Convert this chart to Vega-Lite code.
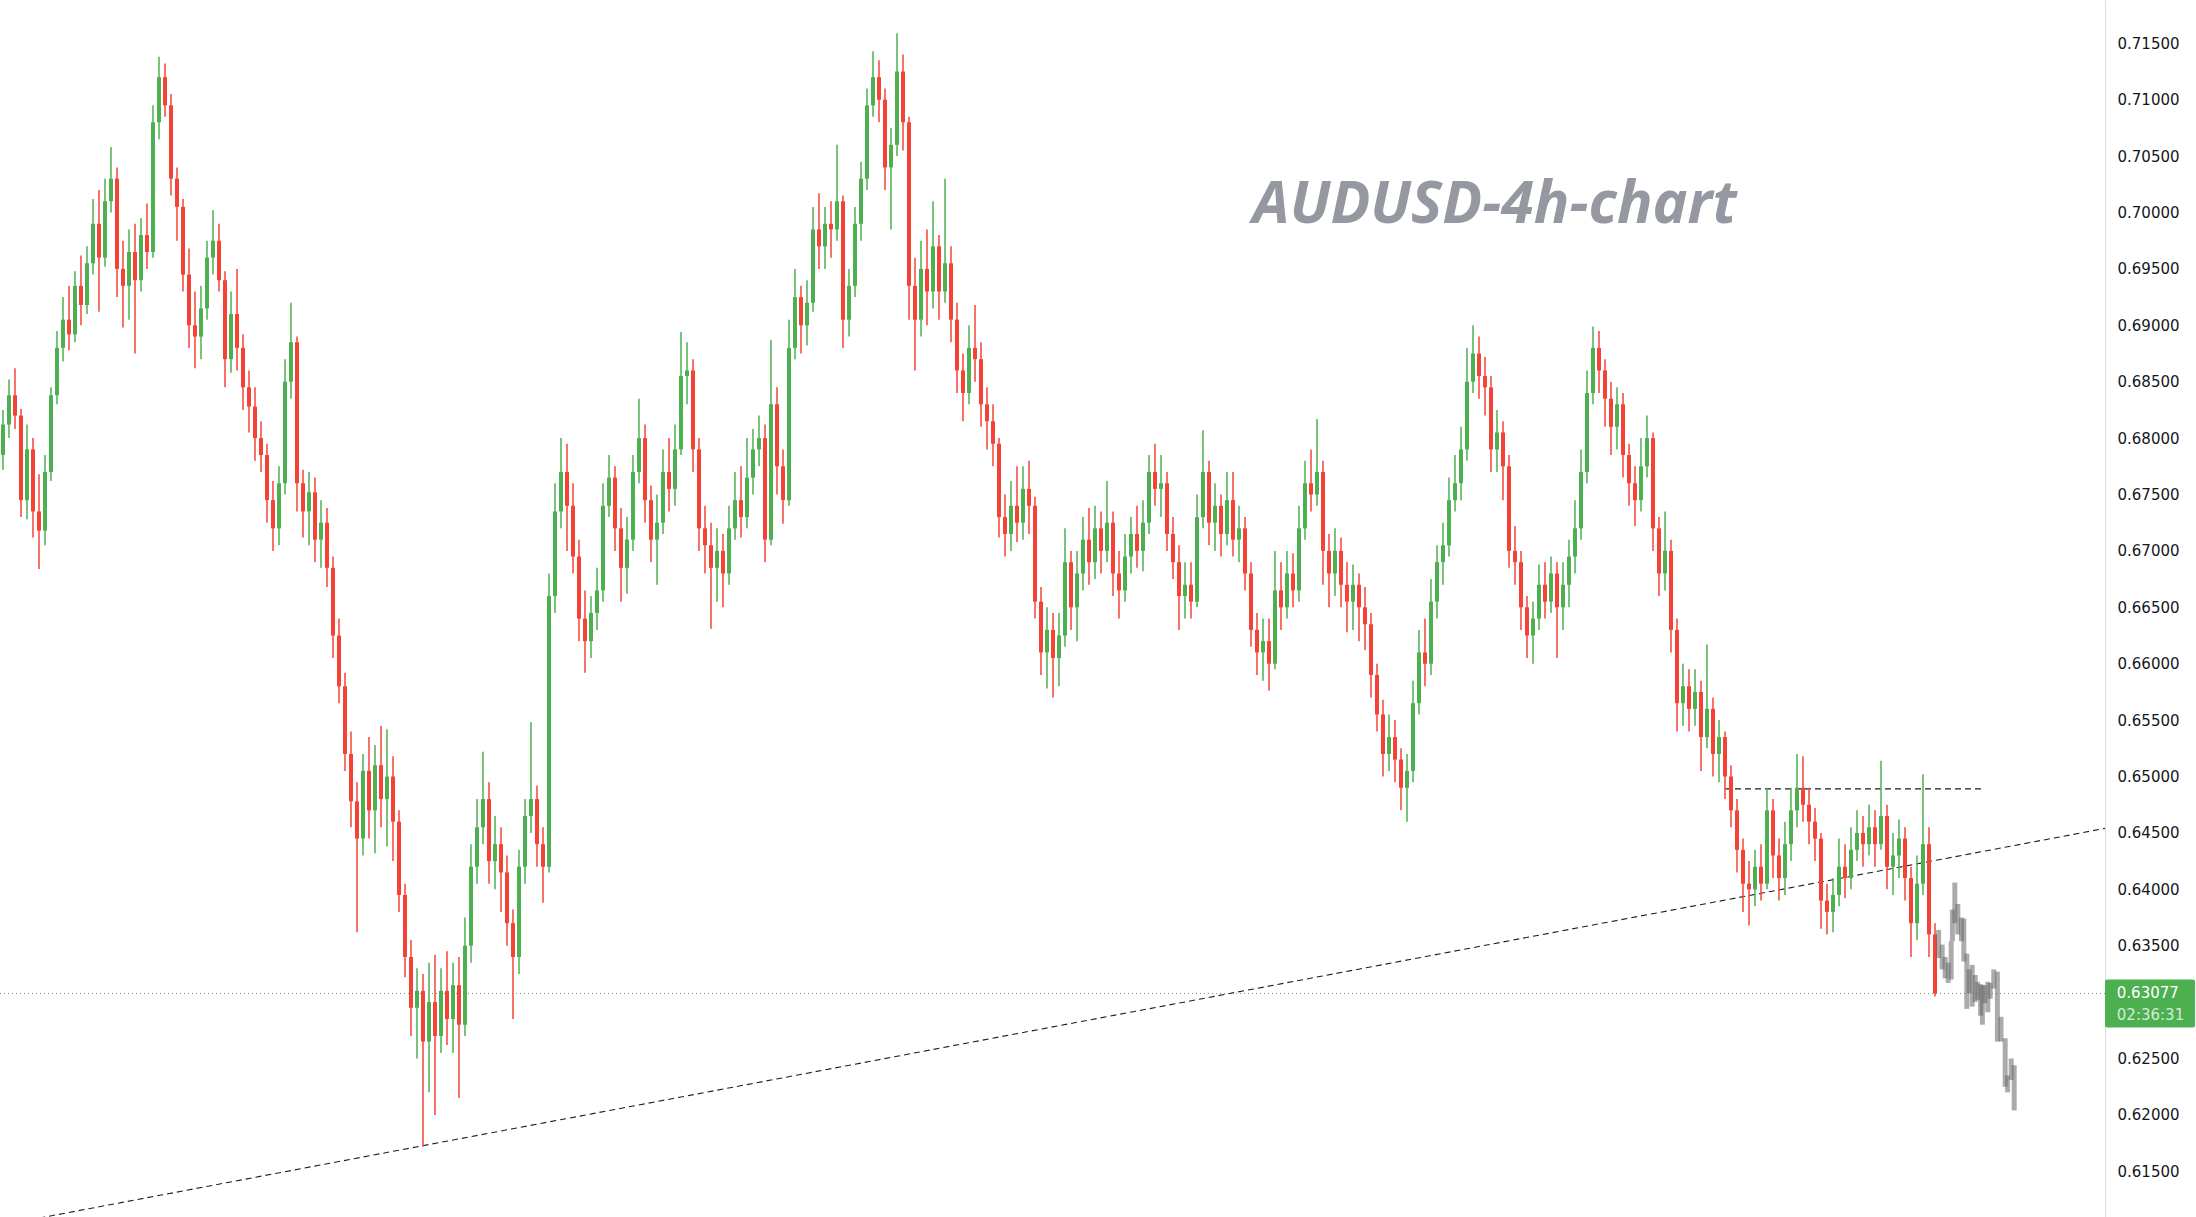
{
  "$schema": "https://vega.github.io/schema/vega-lite/v6.json",
  "width": 2105,
  "height": 1217,
  "padding": {"left": 0, "top": 0, "right": 91, "bottom": 0},
  "autosize": {"type": "none"},
  "background": "white",
  "config": {"view": {"stroke": null}},
  "datasets": {
    "candles": [
      {"t":0,"o":0.6785,"h":0.6825,"l":0.6772,"c":0.6812},
      {"t":1,"o":0.6812,"h":0.6852,"l":0.6800,"c":0.6838},
      {"t":2,"o":0.6838,"h":0.6862,"l":0.6808,"c":0.6820},
      {"t":3,"o":0.6820,"h":0.6826,"l":0.6730,"c":0.6745},
      {"t":4,"o":0.6745,"h":0.6812,"l":0.6728,"c":0.6790},
      {"t":5,"o":0.6790,"h":0.6800,"l":0.6712,"c":0.6735},
      {"t":6,"o":0.6735,"h":0.6768,"l":0.6684,"c":0.6718},
      {"t":7,"o":0.6718,"h":0.6785,"l":0.6705,"c":0.6770},
      {"t":8,"o":0.6770,"h":0.6845,"l":0.6762,"c":0.6838},
      {"t":9,"o":0.6838,"h":0.6895,"l":0.6830,"c":0.6880},
      {"t":10,"o":0.6880,"h":0.6925,"l":0.6868,"c":0.6905},
      {"t":11,"o":0.6905,"h":0.6935,"l":0.6878,"c":0.6892},
      {"t":12,"o":0.6892,"h":0.6948,"l":0.6885,"c":0.6935},
      {"t":13,"o":0.6935,"h":0.6962,"l":0.6900,"c":0.6918},
      {"t":14,"o":0.6918,"h":0.6970,"l":0.6910,"c":0.6955},
      {"t":15,"o":0.6955,"h":0.7012,"l":0.6945,"c":0.6990},
      {"t":16,"o":0.6990,"h":0.7020,"l":0.6912,"c":0.6960},
      {"t":17,"o":0.6960,"h":0.7030,"l":0.6952,"c":0.7010},
      {"t":18,"o":0.7010,"h":0.7058,"l":0.7000,"c":0.7030},
      {"t":19,"o":0.7030,"h":0.7040,"l":0.6925,"c":0.6950},
      {"t":20,"o":0.6950,"h":0.6975,"l":0.6898,"c":0.6935},
      {"t":21,"o":0.6935,"h":0.6985,"l":0.6905,"c":0.6965},
      {"t":22,"o":0.6965,"h":0.6990,"l":0.6875,"c":0.6940},
      {"t":23,"o":0.6940,"h":0.6995,"l":0.6930,"c":0.6980},
      {"t":24,"o":0.6980,"h":0.7008,"l":0.6950,"c":0.6965},
      {"t":25,"o":0.6965,"h":0.7095,"l":0.6960,"c":0.7080},
      {"t":26,"o":0.7080,"h":0.7138,"l":0.7065,"c":0.7120},
      {"t":27,"o":0.7120,"h":0.7132,"l":0.7085,"c":0.7095},
      {"t":28,"o":0.7095,"h":0.7105,"l":0.7015,"c":0.7030},
      {"t":29,"o":0.7030,"h":0.7040,"l":0.6975,"c":0.7005},
      {"t":30,"o":0.7005,"h":0.7012,"l":0.6930,"c":0.6945},
      {"t":31,"o":0.6945,"h":0.6968,"l":0.6880,"c":0.6900},
      {"t":32,"o":0.6900,"h":0.6930,"l":0.6862,"c":0.6890},
      {"t":33,"o":0.6890,"h":0.6935,"l":0.6870,"c":0.6915},
      {"t":34,"o":0.6915,"h":0.6975,"l":0.6905,"c":0.6960},
      {"t":35,"o":0.6960,"h":0.7002,"l":0.6945,"c":0.6975},
      {"t":36,"o":0.6975,"h":0.6990,"l":0.6930,"c":0.6940},
      {"t":37,"o":0.6940,"h":0.6948,"l":0.6845,"c":0.6870},
      {"t":38,"o":0.6870,"h":0.6930,"l":0.6858,"c":0.6910},
      {"t":39,"o":0.6910,"h":0.6950,"l":0.6860,"c":0.6880},
      {"t":40,"o":0.6880,"h":0.6892,"l":0.6825,"c":0.6845},
      {"t":41,"o":0.6845,"h":0.6860,"l":0.6805,"c":0.6828},
      {"t":42,"o":0.6828,"h":0.6845,"l":0.6780,"c":0.6800},
      {"t":43,"o":0.6800,"h":0.6815,"l":0.6770,"c":0.6785},
      {"t":44,"o":0.6785,"h":0.6795,"l":0.6725,"c":0.6745},
      {"t":45,"o":0.6745,"h":0.6762,"l":0.6700,"c":0.6720},
      {"t":46,"o":0.6720,"h":0.6775,"l":0.6705,"c":0.6760},
      {"t":47,"o":0.6760,"h":0.6870,"l":0.6750,"c":0.6850},
      {"t":48,"o":0.6850,"h":0.6920,"l":0.6835,"c":0.6885},
      {"t":49,"o":0.6885,"h":0.6890,"l":0.6735,"c":0.6760},
      {"t":50,"o":0.6760,"h":0.6772,"l":0.6712,"c":0.6735},
      {"t":51,"o":0.6735,"h":0.6770,"l":0.6705,"c":0.6752},
      {"t":52,"o":0.6752,"h":0.6765,"l":0.6690,"c":0.6710},
      {"t":53,"o":0.6710,"h":0.6745,"l":0.6685,"c":0.6725},
      {"t":54,"o":0.6725,"h":0.6738,"l":0.6668,"c":0.6685},
      {"t":55,"o":0.6685,"h":0.6695,"l":0.6605,"c":0.6625},
      {"t":56,"o":0.6625,"h":0.6640,"l":0.6565,"c":0.6580},
      {"t":57,"o":0.6580,"h":0.6592,"l":0.6505,"c":0.6520},
      {"t":58,"o":0.6520,"h":0.6540,"l":0.6455,"c":0.6478},
      {"t":59,"o":0.6478,"h":0.6495,"l":0.6362,"c":0.6445},
      {"t":60,"o":0.6445,"h":0.6520,"l":0.6430,"c":0.6505},
      {"t":61,"o":0.6505,"h":0.6535,"l":0.6445,"c":0.6470},
      {"t":62,"o":0.6470,"h":0.6528,"l":0.6432,"c":0.6510},
      {"t":63,"o":0.6510,"h":0.6545,"l":0.6455,"c":0.6480},
      {"t":64,"o":0.6480,"h":0.6542,"l":0.6438,"c":0.6500},
      {"t":65,"o":0.6500,"h":0.6518,"l":0.6425,"c":0.6460},
      {"t":66,"o":0.6460,"h":0.6470,"l":0.6380,"c":0.6395},
      {"t":67,"o":0.6395,"h":0.6405,"l":0.6322,"c":0.6340},
      {"t":68,"o":0.6340,"h":0.6355,"l":0.6270,"c":0.6295},
      {"t":69,"o":0.6295,"h":0.6330,"l":0.6250,"c":0.6310},
      {"t":70,"o":0.6310,"h":0.6325,"l":0.6172,"c":0.6265},
      {"t":71,"o":0.6265,"h":0.6335,"l":0.6220,"c":0.6300},
      {"t":72,"o":0.6300,"h":0.6342,"l":0.6200,"c":0.6270},
      {"t":73,"o":0.6270,"h":0.6330,"l":0.6255,"c":0.6310},
      {"t":74,"o":0.6310,"h":0.6345,"l":0.6262,"c":0.6285},
      {"t":75,"o":0.6285,"h":0.6335,"l":0.6255,"c":0.6315},
      {"t":76,"o":0.6315,"h":0.6340,"l":0.6215,"c":0.6280},
      {"t":77,"o":0.6280,"h":0.6375,"l":0.6270,"c":0.6350},
      {"t":78,"o":0.6350,"h":0.6440,"l":0.6335,"c":0.6420},
      {"t":79,"o":0.6420,"h":0.6480,"l":0.6405,"c":0.6455},
      {"t":80,"o":0.6455,"h":0.6522,"l":0.6440,"c":0.6480},
      {"t":81,"o":0.6480,"h":0.6495,"l":0.6405,"c":0.6425},
      {"t":82,"o":0.6425,"h":0.6465,"l":0.6400,"c":0.6440},
      {"t":83,"o":0.6440,"h":0.6455,"l":0.6380,"c":0.6415},
      {"t":84,"o":0.6415,"h":0.6430,"l":0.6350,"c":0.6370},
      {"t":85,"o":0.6370,"h":0.6382,"l":0.6285,"c":0.6340},
      {"t":86,"o":0.6340,"h":0.6435,"l":0.6325,"c":0.6420},
      {"t":87,"o":0.6420,"h":0.6480,"l":0.6405,"c":0.6465},
      {"t":88,"o":0.6465,"h":0.6548,"l":0.6450,"c":0.6480},
      {"t":89,"o":0.6480,"h":0.6492,"l":0.6420,"c":0.6440},
      {"t":90,"o":0.6440,"h":0.6455,"l":0.6388,"c":0.6420},
      {"t":91,"o":0.6420,"h":0.6680,"l":0.6415,"c":0.6660},
      {"t":92,"o":0.6660,"h":0.6760,"l":0.6645,"c":0.6735},
      {"t":93,"o":0.6735,"h":0.6800,"l":0.6720,"c":0.6770},
      {"t":94,"o":0.6770,"h":0.6795,"l":0.6700,"c":0.6740},
      {"t":95,"o":0.6740,"h":0.6760,"l":0.6680,"c":0.6695},
      {"t":96,"o":0.6695,"h":0.6710,"l":0.6620,"c":0.6640},
      {"t":97,"o":0.6640,"h":0.6665,"l":0.6592,"c":0.6620},
      {"t":98,"o":0.6620,"h":0.6660,"l":0.6605,"c":0.6645},
      {"t":99,"o":0.6645,"h":0.6685,"l":0.6630,"c":0.6665},
      {"t":100,"o":0.6665,"h":0.6760,"l":0.6655,"c":0.6740},
      {"t":101,"o":0.6740,"h":0.6785,"l":0.6730,"c":0.6765},
      {"t":102,"o":0.6765,"h":0.6775,"l":0.6700,"c":0.6720},
      {"t":103,"o":0.6720,"h":0.6738,"l":0.6655,"c":0.6685},
      {"t":104,"o":0.6685,"h":0.6730,"l":0.6662,"c":0.6710},
      {"t":105,"o":0.6710,"h":0.6785,"l":0.6700,"c":0.6770},
      {"t":106,"o":0.6770,"h":0.6835,"l":0.6760,"c":0.6800},
      {"t":107,"o":0.6800,"h":0.6812,"l":0.6725,"c":0.6745},
      {"t":108,"o":0.6745,"h":0.6758,"l":0.6690,"c":0.6710},
      {"t":109,"o":0.6710,"h":0.6750,"l":0.6670,"c":0.6725},
      {"t":110,"o":0.6725,"h":0.6790,"l":0.6715,"c":0.6770},
      {"t":111,"o":0.6770,"h":0.6800,"l":0.6735,"c":0.6755},
      {"t":112,"o":0.6755,"h":0.6812,"l":0.6740,"c":0.6790},
      {"t":113,"o":0.6790,"h":0.6894,"l":0.6785,"c":0.6855},
      {"t":114,"o":0.6855,"h":0.6885,"l":0.6830,"c":0.6860},
      {"t":115,"o":0.6860,"h":0.6870,"l":0.6770,"c":0.6790},
      {"t":116,"o":0.6790,"h":0.6800,"l":0.6700,"c":0.6720},
      {"t":117,"o":0.6720,"h":0.6740,"l":0.6680,"c":0.6705},
      {"t":118,"o":0.6705,"h":0.6725,"l":0.6631,"c":0.6685},
      {"t":119,"o":0.6685,"h":0.6720,"l":0.6655,"c":0.6700},
      {"t":120,"o":0.6700,"h":0.6715,"l":0.6650,"c":0.6680},
      {"t":121,"o":0.6680,"h":0.6740,"l":0.6670,"c":0.6720},
      {"t":122,"o":0.6720,"h":0.6770,"l":0.6710,"c":0.6745},
      {"t":123,"o":0.6745,"h":0.6775,"l":0.6712,"c":0.6730},
      {"t":124,"o":0.6730,"h":0.6800,"l":0.6720,"c":0.6765},
      {"t":125,"o":0.6765,"h":0.6808,"l":0.6750,"c":0.6790},
      {"t":126,"o":0.6790,"h":0.6820,"l":0.6775,"c":0.6800},
      {"t":127,"o":0.6800,"h":0.6812,"l":0.6690,"c":0.6710},
      {"t":128,"o":0.6710,"h":0.6887,"l":0.6705,"c":0.6830},
      {"t":129,"o":0.6830,"h":0.6845,"l":0.6750,"c":0.6775},
      {"t":130,"o":0.6775,"h":0.6790,"l":0.6724,"c":0.6745},
      {"t":131,"o":0.6745,"h":0.6905,"l":0.6740,"c":0.6880},
      {"t":132,"o":0.6880,"h":0.6950,"l":0.6870,"c":0.6925},
      {"t":133,"o":0.6925,"h":0.6935,"l":0.6875,"c":0.6900},
      {"t":134,"o":0.6900,"h":0.6940,"l":0.6882,"c":0.6920},
      {"t":135,"o":0.6920,"h":0.7005,"l":0.6912,"c":0.6985},
      {"t":136,"o":0.6985,"h":0.7017,"l":0.6950,"c":0.6970},
      {"t":137,"o":0.6970,"h":0.7005,"l":0.6950,"c":0.6990},
      {"t":138,"o":0.6990,"h":0.7010,"l":0.6960,"c":0.6985},
      {"t":139,"o":0.6985,"h":0.7060,"l":0.6975,"c":0.7010},
      {"t":140,"o":0.7010,"h":0.7015,"l":0.6880,"c":0.6905},
      {"t":141,"o":0.6905,"h":0.6950,"l":0.6890,"c":0.6935},
      {"t":142,"o":0.6935,"h":0.7005,"l":0.6925,"c":0.6990},
      {"t":143,"o":0.6990,"h":0.7045,"l":0.6975,"c":0.7030},
      {"t":144,"o":0.7030,"h":0.7110,"l":0.7020,"c":0.7095},
      {"t":145,"o":0.7095,"h":0.7143,"l":0.7085,"c":0.7120},
      {"t":146,"o":0.7120,"h":0.7135,"l":0.7080,"c":0.7100},
      {"t":147,"o":0.7100,"h":0.7110,"l":0.7020,"c":0.7040},
      {"t":148,"o":0.7040,"h":0.7075,"l":0.6985,"c":0.7060},
      {"t":149,"o":0.7060,"h":0.7159,"l":0.7050,"c":0.7125},
      {"t":150,"o":0.7125,"h":0.7140,"l":0.7055,"c":0.7080},
      {"t":151,"o":0.7080,"h":0.7085,"l":0.6905,"c":0.6935},
      {"t":152,"o":0.6935,"h":0.6960,"l":0.6860,"c":0.6905},
      {"t":153,"o":0.6905,"h":0.6975,"l":0.6890,"c":0.6950},
      {"t":154,"o":0.6950,"h":0.6985,"l":0.6900,"c":0.6930},
      {"t":155,"o":0.6930,"h":0.7010,"l":0.6915,"c":0.6970},
      {"t":156,"o":0.6970,"h":0.6980,"l":0.6905,"c":0.6930},
      {"t":157,"o":0.6930,"h":0.7030,"l":0.6920,"c":0.6955},
      {"t":158,"o":0.6955,"h":0.6970,"l":0.6885,"c":0.6905},
      {"t":159,"o":0.6905,"h":0.6920,"l":0.6840,"c":0.6860},
      {"t":160,"o":0.6860,"h":0.6875,"l":0.6815,"c":0.6840},
      {"t":161,"o":0.6840,"h":0.6900,"l":0.6830,"c":0.6880},
      {"t":162,"o":0.6880,"h":0.6918,"l":0.6850,"c":0.6870},
      {"t":163,"o":0.6870,"h":0.6885,"l":0.6810,"c":0.6830},
      {"t":164,"o":0.6830,"h":0.6845,"l":0.6790,"c":0.6815},
      {"t":165,"o":0.6815,"h":0.6830,"l":0.6775,"c":0.6795},
      {"t":166,"o":0.6795,"h":0.6800,"l":0.6712,"c":0.6730},
      {"t":167,"o":0.6730,"h":0.6750,"l":0.6695,"c":0.6715},
      {"t":168,"o":0.6715,"h":0.6762,"l":0.6700,"c":0.6740},
      {"t":169,"o":0.6740,"h":0.6775,"l":0.6708,"c":0.6725},
      {"t":170,"o":0.6725,"h":0.6775,"l":0.6710,"c":0.6755},
      {"t":171,"o":0.6755,"h":0.6780,"l":0.6715,"c":0.6740},
      {"t":172,"o":0.6740,"h":0.6748,"l":0.6640,"c":0.6655},
      {"t":173,"o":0.6655,"h":0.6668,"l":0.6590,"c":0.6610},
      {"t":174,"o":0.6610,"h":0.6650,"l":0.6578,"c":0.6630},
      {"t":175,"o":0.6630,"h":0.6645,"l":0.6570,"c":0.6605},
      {"t":176,"o":0.6605,"h":0.6645,"l":0.6580,"c":0.6625},
      {"t":177,"o":0.6625,"h":0.6720,"l":0.6615,"c":0.6690},
      {"t":178,"o":0.6690,"h":0.6700,"l":0.6630,"c":0.6650},
      {"t":179,"o":0.6650,"h":0.6700,"l":0.6620,"c":0.6680},
      {"t":180,"o":0.6680,"h":0.6730,"l":0.6665,"c":0.6710},
      {"t":181,"o":0.6710,"h":0.6738,"l":0.6670,"c":0.6690},
      {"t":182,"o":0.6690,"h":0.6740,"l":0.6675,"c":0.6720},
      {"t":183,"o":0.6720,"h":0.6735,"l":0.6680,"c":0.6700},
      {"t":184,"o":0.6700,"h":0.6762,"l":0.6690,"c":0.6725},
      {"t":185,"o":0.6725,"h":0.6735,"l":0.6660,"c":0.6680},
      {"t":186,"o":0.6680,"h":0.6700,"l":0.6640,"c":0.6665},
      {"t":187,"o":0.6665,"h":0.6715,"l":0.6655,"c":0.6695},
      {"t":188,"o":0.6695,"h":0.6730,"l":0.6680,"c":0.6715},
      {"t":189,"o":0.6715,"h":0.6740,"l":0.6685,"c":0.6700},
      {"t":190,"o":0.6700,"h":0.6745,"l":0.6682,"c":0.6725},
      {"t":191,"o":0.6725,"h":0.6785,"l":0.6715,"c":0.6770},
      {"t":192,"o":0.6770,"h":0.6795,"l":0.6740,"c":0.6755},
      {"t":193,"o":0.6755,"h":0.6785,"l":0.6730,"c":0.6760},
      {"t":194,"o":0.6760,"h":0.6770,"l":0.6700,"c":0.6715},
      {"t":195,"o":0.6715,"h":0.6730,"l":0.6675,"c":0.6690},
      {"t":196,"o":0.6690,"h":0.6705,"l":0.6630,"c":0.6660},
      {"t":197,"o":0.6660,"h":0.6690,"l":0.6640,"c":0.6670},
      {"t":198,"o":0.6670,"h":0.6690,"l":0.6640,"c":0.6655},
      {"t":199,"o":0.6655,"h":0.6750,"l":0.6650,"c":0.6730},
      {"t":200,"o":0.6730,"h":0.6807,"l":0.6720,"c":0.6770},
      {"t":201,"o":0.6770,"h":0.6780,"l":0.6705,"c":0.6725},
      {"t":202,"o":0.6725,"h":0.6760,"l":0.6700,"c":0.6740},
      {"t":203,"o":0.6740,"h":0.6750,"l":0.6695,"c":0.6715},
      {"t":204,"o":0.6715,"h":0.6770,"l":0.6705,"c":0.6745},
      {"t":205,"o":0.6745,"h":0.6770,"l":0.6695,"c":0.6710},
      {"t":206,"o":0.6710,"h":0.6740,"l":0.6690,"c":0.6720},
      {"t":207,"o":0.6720,"h":0.6730,"l":0.6665,"c":0.6680},
      {"t":208,"o":0.6680,"h":0.6690,"l":0.6615,"c":0.6630},
      {"t":209,"o":0.6630,"h":0.6645,"l":0.6590,"c":0.6610},
      {"t":210,"o":0.6610,"h":0.6640,"l":0.6585,"c":0.6620},
      {"t":211,"o":0.6620,"h":0.6640,"l":0.6576,"c":0.6600},
      {"t":212,"o":0.6600,"h":0.6700,"l":0.6595,"c":0.6665},
      {"t":213,"o":0.6665,"h":0.6690,"l":0.6630,"c":0.6650},
      {"t":214,"o":0.6650,"h":0.6700,"l":0.6640,"c":0.6680},
      {"t":215,"o":0.6680,"h":0.6698,"l":0.6650,"c":0.6665},
      {"t":216,"o":0.6665,"h":0.6740,"l":0.6655,"c":0.6720},
      {"t":217,"o":0.6720,"h":0.6780,"l":0.6710,"c":0.6760},
      {"t":218,"o":0.6760,"h":0.6790,"l":0.6735,"c":0.6750},
      {"t":219,"o":0.6750,"h":0.6817,"l":0.6740,"c":0.6770},
      {"t":220,"o":0.6770,"h":0.6780,"l":0.6670,"c":0.6700},
      {"t":221,"o":0.6700,"h":0.6715,"l":0.6650,"c":0.6680},
      {"t":222,"o":0.6680,"h":0.6720,"l":0.6660,"c":0.6700},
      {"t":223,"o":0.6700,"h":0.6712,"l":0.6650,"c":0.6670},
      {"t":224,"o":0.6670,"h":0.6690,"l":0.6628,"c":0.6655},
      {"t":225,"o":0.6655,"h":0.6688,"l":0.6630,"c":0.6670},
      {"t":226,"o":0.6670,"h":0.6680,"l":0.6620,"c":0.6650},
      {"t":227,"o":0.6650,"h":0.6668,"l":0.6612,"c":0.6635},
      {"t":228,"o":0.6635,"h":0.6645,"l":0.6570,"c":0.6590},
      {"t":229,"o":0.6590,"h":0.6600,"l":0.6540,"c":0.6555},
      {"t":230,"o":0.6555,"h":0.6568,"l":0.6500,"c":0.6520},
      {"t":231,"o":0.6520,"h":0.6555,"l":0.6505,"c":0.6535},
      {"t":232,"o":0.6535,"h":0.6550,"l":0.6495,"c":0.6515},
      {"t":233,"o":0.6515,"h":0.6525,"l":0.6470,"c":0.6490},
      {"t":234,"o":0.6490,"h":0.6520,"l":0.6460,"c":0.6505},
      {"t":235,"o":0.6505,"h":0.6585,"l":0.6495,"c":0.6565},
      {"t":236,"o":0.6565,"h":0.6630,"l":0.6555,"c":0.6610},
      {"t":237,"o":0.6610,"h":0.6640,"l":0.6580,"c":0.6600},
      {"t":238,"o":0.6600,"h":0.6675,"l":0.6590,"c":0.6655},
      {"t":239,"o":0.6655,"h":0.6705,"l":0.6640,"c":0.6690},
      {"t":240,"o":0.6690,"h":0.6725,"l":0.6670,"c":0.6705},
      {"t":241,"o":0.6705,"h":0.6765,"l":0.6695,"c":0.6745},
      {"t":242,"o":0.6745,"h":0.6785,"l":0.6735,"c":0.6760},
      {"t":243,"o":0.6760,"h":0.6810,"l":0.6745,"c":0.6790},
      {"t":244,"o":0.6790,"h":0.6880,"l":0.6780,"c":0.6850},
      {"t":245,"o":0.6850,"h":0.6900,"l":0.6840,"c":0.6875},
      {"t":246,"o":0.6875,"h":0.6890,"l":0.6835,"c":0.6855},
      {"t":247,"o":0.6855,"h":0.6872,"l":0.6820,"c":0.6845},
      {"t":248,"o":0.6845,"h":0.6855,"l":0.6770,"c":0.6790},
      {"t":249,"o":0.6790,"h":0.6825,"l":0.6770,"c":0.6805},
      {"t":250,"o":0.6805,"h":0.6815,"l":0.6745,"c":0.6775},
      {"t":251,"o":0.6775,"h":0.6785,"l":0.6685,"c":0.6700},
      {"t":252,"o":0.6700,"h":0.6722,"l":0.6670,"c":0.6690},
      {"t":253,"o":0.6690,"h":0.6700,"l":0.6630,"c":0.6650},
      {"t":254,"o":0.6650,"h":0.6660,"l":0.6605,"c":0.6625},
      {"t":255,"o":0.6625,"h":0.6655,"l":0.6600,"c":0.6640},
      {"t":256,"o":0.6640,"h":0.6688,"l":0.6630,"c":0.6670},
      {"t":257,"o":0.6670,"h":0.6690,"l":0.6640,"c":0.6655},
      {"t":258,"o":0.6655,"h":0.6695,"l":0.6645,"c":0.6680},
      {"t":259,"o":0.6680,"h":0.6690,"l":0.6605,"c":0.6650},
      {"t":260,"o":0.6650,"h":0.6690,"l":0.6630,"c":0.6670},
      {"t":261,"o":0.6670,"h":0.6710,"l":0.6650,"c":0.6695},
      {"t":262,"o":0.6695,"h":0.6745,"l":0.6680,"c":0.6720},
      {"t":263,"o":0.6720,"h":0.6790,"l":0.6710,"c":0.6770},
      {"t":264,"o":0.6770,"h":0.6860,"l":0.6760,"c":0.6840},
      {"t":265,"o":0.6840,"h":0.6899,"l":0.6830,"c":0.6880},
      {"t":266,"o":0.6880,"h":0.6895,"l":0.6840,"c":0.6860},
      {"t":267,"o":0.6860,"h":0.6870,"l":0.6810,"c":0.6835},
      {"t":268,"o":0.6835,"h":0.6850,"l":0.6785,"c":0.6810},
      {"t":269,"o":0.6810,"h":0.6845,"l":0.6790,"c":0.6830},
      {"t":270,"o":0.6830,"h":0.6840,"l":0.6765,"c":0.6785},
      {"t":271,"o":0.6785,"h":0.6795,"l":0.6740,"c":0.6760},
      {"t":272,"o":0.6760,"h":0.6775,"l":0.6722,"c":0.6745},
      {"t":273,"o":0.6745,"h":0.6800,"l":0.6735,"c":0.6775},
      {"t":274,"o":0.6775,"h":0.6820,"l":0.6765,"c":0.6800},
      {"t":275,"o":0.6800,"h":0.6805,"l":0.6700,"c":0.6720},
      {"t":276,"o":0.6720,"h":0.6730,"l":0.6660,"c":0.6680},
      {"t":277,"o":0.6680,"h":0.6735,"l":0.6665,"c":0.6700},
      {"t":278,"o":0.6700,"h":0.6710,"l":0.6610,"c":0.6630},
      {"t":279,"o":0.6630,"h":0.6640,"l":0.6540,"c":0.6565},
      {"t":280,"o":0.6565,"h":0.6600,"l":0.6545,"c":0.6580},
      {"t":281,"o":0.6580,"h":0.6595,"l":0.6540,"c":0.6560},
      {"t":282,"o":0.6560,"h":0.6595,"l":0.6545,"c":0.6575},
      {"t":283,"o":0.6575,"h":0.6585,"l":0.6505,"c":0.6535},
      {"t":284,"o":0.6535,"h":0.6617,"l":0.6525,"c":0.6560},
      {"t":285,"o":0.6560,"h":0.6570,"l":0.6500,"c":0.6520},
      {"t":286,"o":0.6520,"h":0.6550,"l":0.6495,"c":0.6535},
      {"t":287,"o":0.6535,"h":0.6540,"l":0.6480,"c":0.6500},
      {"t":288,"o":0.6500,"h":0.6510,"l":0.6455,"c":0.6470},
      {"t":289,"o":0.6470,"h":0.6480,"l":0.6415,"c":0.6435},
      {"t":290,"o":0.6435,"h":0.6445,"l":0.6380,"c":0.6405},
      {"t":291,"o":0.6405,"h":0.6425,"l":0.6368,"c":0.6400},
      {"t":292,"o":0.6400,"h":0.6435,"l":0.6385,"c":0.6420},
      {"t":293,"o":0.6420,"h":0.6440,"l":0.6390,"c":0.6405},
      {"t":294,"o":0.6405,"h":0.6490,"l":0.6400,"c":0.6470},
      {"t":295,"o":0.6470,"h":0.6480,"l":0.6410,"c":0.6430},
      {"t":296,"o":0.6430,"h":0.6445,"l":0.6390,"c":0.6410},
      {"t":297,"o":0.6410,"h":0.6460,"l":0.6395,"c":0.6440},
      {"t":298,"o":0.6440,"h":0.6490,"l":0.6425,"c":0.6470},
      {"t":299,"o":0.6470,"h":0.6520,"l":0.6455,"c":0.6490},
      {"t":300,"o":0.6490,"h":0.6518,"l":0.6460,"c":0.6475},
      {"t":301,"o":0.6475,"h":0.6490,"l":0.6440,"c":0.6460},
      {"t":302,"o":0.6460,"h":0.6472,"l":0.6425,"c":0.6445},
      {"t":303,"o":0.6445,"h":0.6450,"l":0.6365,"c":0.6390},
      {"t":304,"o":0.6390,"h":0.6405,"l":0.6360,"c":0.6380},
      {"t":305,"o":0.6380,"h":0.6410,"l":0.6362,"c":0.6395},
      {"t":306,"o":0.6395,"h":0.6445,"l":0.6385,"c":0.6420},
      {"t":307,"o":0.6420,"h":0.6440,"l":0.6392,"c":0.6410},
      {"t":308,"o":0.6410,"h":0.6455,"l":0.6400,"c":0.6435},
      {"t":309,"o":0.6435,"h":0.6470,"l":0.6425,"c":0.6450},
      {"t":310,"o":0.6450,"h":0.6465,"l":0.6420,"c":0.6440},
      {"t":311,"o":0.6440,"h":0.6475,"l":0.6430,"c":0.6455},
      {"t":312,"o":0.6455,"h":0.6470,"l":0.6420,"c":0.6440},
      {"t":313,"o":0.6440,"h":0.6514,"l":0.6435,"c":0.6465},
      {"t":314,"o":0.6465,"h":0.6475,"l":0.6400,"c":0.6420},
      {"t":315,"o":0.6420,"h":0.6450,"l":0.6395,"c":0.6430},
      {"t":316,"o":0.6430,"h":0.6462,"l":0.6410,"c":0.6445},
      {"t":317,"o":0.6445,"h":0.6455,"l":0.6390,"c":0.6410},
      {"t":318,"o":0.6410,"h":0.6420,"l":0.6340,"c":0.6370},
      {"t":319,"o":0.6370,"h":0.6430,"l":0.6355,"c":0.6405},
      {"t":320,"o":0.6405,"h":0.6502,"l":0.6395,"c":0.6440},
      {"t":321,"o":0.6440,"h":0.6455,"l":0.6340,"c":0.6360},
      {"t":322,"o":0.6360,"h":0.6370,"l":0.6305,"c":0.63077}
    ],
    "ghost": [
      {"g":322.6,"lo":0.6339,"hi":0.6364},
      {"g":323.2,"lo":0.6329,"hi":0.6351},
      {"g":323.7,"lo":0.6321,"hi":0.6340},
      {"g":324.2,"lo":0.6317,"hi":0.6335},
      {"g":324.7,"lo":0.6320,"hi":0.6354},
      {"g":324.9,"lo":0.6354,"hi":0.6382},
      {"g":325.3,"lo":0.6370,"hi":0.6406},
      {"g":325.8,"lo":0.6360,"hi":0.6387},
      {"g":326.4,"lo":0.6354,"hi":0.6375},
      {"g":326.8,"lo":0.6336,"hi":0.6374},
      {"g":327.3,"lo":0.6294,"hi":0.6343},
      {"g":327.7,"lo":0.6308,"hi":0.6329},
      {"g":328.2,"lo":0.6296,"hi":0.6333},
      {"g":328.7,"lo":0.6300,"hi":0.6324},
      {"g":329.1,"lo":0.6302,"hi":0.6318},
      {"g":329.6,"lo":0.6288,"hi":0.6316},
      {"g":329.9,"lo":0.6280,"hi":0.6315},
      {"g":330.3,"lo":0.6299,"hi":0.6315},
      {"g":330.8,"lo":0.6291,"hi":0.6318},
      {"g":331.2,"lo":0.6303,"hi":0.6317},
      {"g":331.8,"lo":0.6312,"hi":0.6329},
      {"g":332.4,"lo":0.6265,"hi":0.6327},
      {"g":333.0,"lo":0.6265,"hi":0.6287},
      {"g":333.7,"lo":0.6225,"hi":0.6268},
      {"g":334.1,"lo":0.6220,"hi":0.6235},
      {"g":334.7,"lo":0.6231,"hi":0.6250},
      {"g":335.2,"lo":0.6204,"hi":0.6244}
    ]
  },
  "layer": [
    {
      "data": {"values": [{"t": -0.5, "p": 0.6102}, {"t": 350.3333, "p": 0.6454}]},
      "mark": {"type": "line", "stroke": "#1e1e1e", "strokeWidth": 1.1, "strokeDash": [6, 4], "clip": true},
      "encoding": {
        "x": {"field": "t", "type": "quantitative", "scale": {"domain": [-0.5, 350.3333], "nice": false, "zero": false}, "axis": null},
        "y": {"field": "p", "type": "quantitative", "title": null,
              "scale": {"domain": [0.61095, 0.71884], "nice": false, "zero": false},
              "axis": {"orient": "right", "values": [0.615, 0.62, 0.625, 0.635, 0.64, 0.645, 0.65, 0.655, 0.66, 0.665, 0.67, 0.675, 0.68, 0.685, 0.69, 0.695, 0.7, 0.705, 0.71, 0.715],
                       "format": ".5f", "ticks": false, "labelPadding": 12, "grid": false, "domain": true,
                       "domainColor": "#dcdcdc", "domainWidth": 1, "labelFont": "DejaVu Sans", "labelFontSize": 15,
                       "labelColor": "#131722", "title": null, "labelAlign": "left", "labelBaseline": "middle", "labelFlush": false, "labelOverlap": false}}
      }
    },
    {
      "data": {"values": [{"t": 287, "p": 0.6489}, {"t": 329.8, "p": 0.6489}]},
      "mark": {"type": "line", "stroke": "#1e1e1e", "strokeWidth": 1.1, "strokeDash": [6, 4]},
      "encoding": {
        "x": {"field": "t", "type": "quantitative"},
        "y": {"field": "p", "type": "quantitative"}
      }
    },
    {
      "data": {"values": [{"t": -0.5, "p": 0.63077}, {"t": 350.3333, "p": 0.63077}]},
      "mark": {"type": "line", "stroke": "#4caf50", "strokeWidth": 1, "strokeDash": [1, 3]},
      "encoding": {
        "x": {"field": "t", "type": "quantitative"},
        "y": {"field": "p", "type": "quantitative"}
      }
    },
    {
      "data": {"name": "candles"},
      "mark": {"type": "rule", "strokeWidth": 1.5},
      "encoding": {
        "x": {"field": "t", "type": "quantitative"},
        "y": {"field": "l", "type": "quantitative"},
        "y2": {"field": "h"},
        "color": {"condition": {"test": "datum.c >= datum.o", "value": "#4caf50"}, "value": "#f44336"}
      }
    },
    {
      "data": {"name": "candles"},
      "mark": {"type": "rule", "strokeWidth": 4, "strokeCap": "butt"},
      "encoding": {
        "x": {"field": "t", "type": "quantitative"},
        "y": {"field": "o", "type": "quantitative"},
        "y2": {"field": "c"},
        "color": {"condition": {"test": "datum.c >= datum.o", "value": "#4caf50"}, "value": "#f44336"}
      }
    },
    {
      "data": {"name": "ghost"},
      "mark": {"type": "rule", "strokeWidth": 5, "strokeCap": "butt", "color": "#666666", "opacity": 0.55},
      "encoding": {
        "x": {"field": "g", "type": "quantitative"},
        "y": {"field": "lo", "type": "quantitative"},
        "y2": {"field": "hi"}
      }
    },
    {
      "data": {"values": [{"t": 248.6, "p": 0.6991, "label": "AUDUSD-4h-chart"}]},
      "mark": {"type": "text", "font": "Open Sans", "fontSize": 59, "fontWeight": "bold", "fontStyle": "italic", "color": "#9598a1", "align": "center", "baseline": "alphabetic"},
      "encoding": {
        "x": {"field": "t", "type": "quantitative"},
        "y": {"field": "p", "type": "quantitative"},
        "text": {"field": "label"}
      }
    },
    {
      "data": {"values": [{"t": 350.3333, "t2": 365.3333, "p": 0.6320, "p2": 0.62775}]},
      "mark": {"type": "rect", "color": "#4caf50", "cornerRadius": 2, "clip": false},
      "encoding": {
        "x": {"field": "t", "type": "quantitative"},
        "x2": {"field": "t2"},
        "y": {"field": "p", "type": "quantitative"},
        "y2": {"field": "p2"}
      }
    },
    {
      "data": {"values": [{"t": 352.3, "p": 0.63077, "label": "0.63077", "kind": "price"}, {"t": 352.3, "p": 0.62886, "label": "02:36:31", "kind": "time"}]},
      "mark": {"type": "text", "font": "DejaVu Sans", "fontSize": 15, "align": "left", "baseline": "middle", "clip": false},
      "encoding": {
        "x": {"field": "t", "type": "quantitative"},
        "y": {"field": "p", "type": "quantitative"},
        "text": {"field": "label"},
        "color": {"condition": {"test": "datum.kind == 'price'", "value": "#ffffff"}, "value": "#d4ecd5"},
        "fontWeight": {"condition": {"test": "datum.kind == 'price'", "value": "bold"}, "value": "normal"}
      }
    }
  ]
}
